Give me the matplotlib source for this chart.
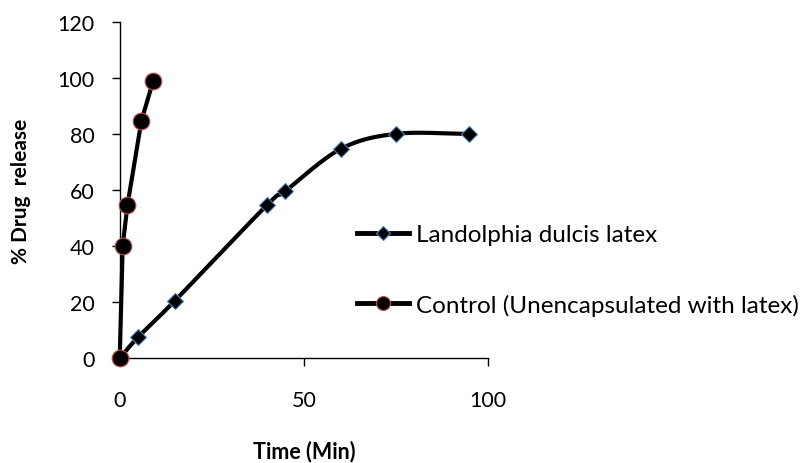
import numpy as np
import matplotlib
matplotlib.use("Agg")
import matplotlib.pyplot as plt
from matplotlib.lines import Line2D

plt.rcParams['font.family'] = ['Lato', 'DejaVu Sans']

# Release data (time in minutes, % drug released)
latex_time = [0, 5, 15, 40, 45, 60, 75, 95]
latex_release = [0, 7.5, 20.5, 54.6, 59.6, 74.6, 80, 80]

control_time = [0, 0.8, 2.1, 5.9, 9.1]
control_release = [0, 40, 54.6, 84.7, 99]

latex_label = "Landolphia dulcis latex"
control_label = "Control (Unencapsulated with latex)"

x_ticks = [0, 50, 100]
y_ticks = [0, 20, 40, 60, 80, 100, 120]


def smooth_curve(x, y, n=30):
    """Catmull-Rom curve through the given points for a smoothed line."""
    x = np.asarray(x, float)
    y = np.asarray(y, float)
    px = np.concatenate([[2 * x[0] - x[1]], x, [2 * x[-1] - x[-2]]])
    py = np.concatenate([[2 * y[0] - y[1]], y, [2 * y[-1] - y[-2]]])
    xs, ys = [], []
    t = np.linspace(0, 1, n)
    for i in range(1, len(px) - 2):
        for arr, out in ((px, xs), (py, ys)):
            p0, p1, p2, p3 = arr[i - 1], arr[i], arr[i + 1], arr[i + 2]
            seg = 0.5 * ((2 * p1) + (-p0 + p2) * t
                         + (2 * p0 - 5 * p1 + 4 * p2 - p3) * t ** 2
                         + (-p0 + 3 * p1 - 3 * p2 + p3) * t ** 3)
            out.extend(seg)
    return np.array(xs), np.array(ys)


fig = plt.figure(figsize=(8.09, 4.64), dpi=100)
ax = fig.add_axes([0.148, 0.226, 0.455, 0.725])

lw = 3.0
sx, sy = smooth_curve(latex_time, latex_release)
ax.plot(sx, sy, color='black', lw=lw, clip_on=False, zorder=2)
ax.plot(latex_time, latex_release, ls='none', marker='D', ms=8.5,
        mfc='black', mec='#4f81bd', mew=0.8, clip_on=False, zorder=3)

ax.plot(control_time, control_release, color='black', lw=lw,
        solid_joinstyle='round', clip_on=False, zorder=4)
ax.plot(control_time, control_release, ls='none', marker='o', ms=12,
        mfc='black', mec='#c0504d', mew=0.8, clip_on=False, zorder=5)

ax.set_xlim(0, 100)
ax.set_ylim(0, 120)
ax.set_xticks(x_ticks)
ax.set_yticks(y_ticks)
for side in ('top', 'right'):
    ax.spines[side].set_visible(False)
for side in ('left', 'bottom'):
    ax.spines[side].set_linewidth(1.0)
    ax.spines[side].set_color('black')
ax.tick_params(direction='out', length=6, width=1, labelsize=15.5,
               colors='black')
ax.tick_params(axis='y', pad=12)
ax.tick_params(axis='x', pad=17)

ax.set_xlabel('Time (Min)', fontsize=15.5, fontweight='bold', labelpad=21)
ax.set_ylabel('% Drug  release', fontsize=15, fontweight='bold', labelpad=19)

handles = [
    Line2D([], [], color='black', lw=lw + 0.5, marker='D', ms=7, mfc='black',
           mec='#4f81bd', mew=0.8),
    Line2D([], [], color='black', lw=lw + 0.5, marker='o', ms=10, mfc='black',
           mec='#c0504d', mew=0.8),
]
fig.legend(handles, [latex_label, control_label], loc='upper left',
           bbox_to_anchor=(0.441, 0.515), frameon=False, fontsize=17.5,
           handlelength=2.15, handletextpad=0.3, labelspacing=2.0,
           borderaxespad=0, borderpad=0)

fig.savefig('out.png', dpi=100)
